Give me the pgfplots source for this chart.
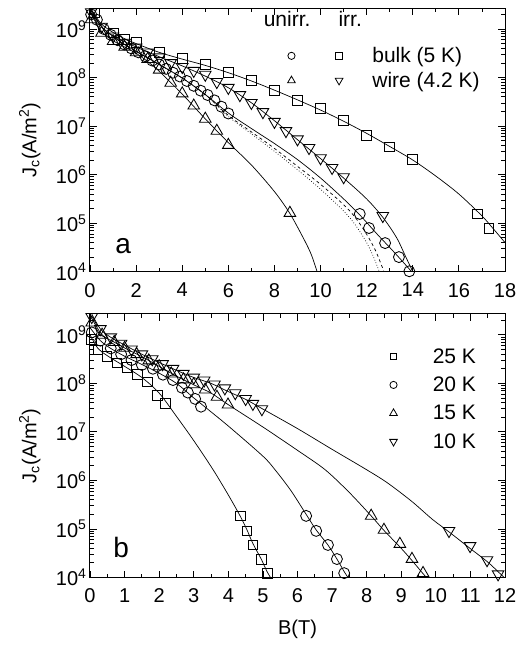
\documentclass[border=0pt]{standalone}
\usepackage{fontspec}
\setmainfont{Liberation Sans}
\usepackage{pgfplots}
\pgfplotsset{compat=1.18}
\pgfplotsset{
  jcfit/.style={black, line width=0.7bp, no markers, smooth},
  jcci/.style={black, only marks, mark=o, mark size=5.5bp, mark options={line width=0.85bp, solid}},
  jcsq/.style={black, only marks, mark=square, mark size=4.9bp, mark options={line width=0.85bp, solid}},
  jctu/.style={black, only marks, mark=triangle, mark size=6.7bp, mark options={line width=0.85bp, solid}},
  jctd/.style={black, only marks, mark=triangle, mark size=6.7bp, mark options={line width=0.85bp, solid, rotate=180}},
}
\begin{document}
\begin{tikzpicture}
\path (0bp,0bp) rectangle (517bp,646bp);
% ---------------- panel a ----------------
\begin{axis}[at={(90bp,374.3bp)}, anchor=south west,
    scale only axis, width=415bp, height=263.6bp,
    ymode=log, ymin=1e4, ymax=2.7e9,
    ytick={1e4,1e5,1e6,1e7,1e8,1e9},
    yticklabels={10\textsuperscript{4},10\textsuperscript{5},10\textsuperscript{6},10\textsuperscript{7},10\textsuperscript{8},10\textsuperscript{9}},
    minor ytick={2e4,3e4,4e4,5e4,6e4,7e4,8e4,9e4,2e5,3e5,4e5,5e5,6e5,7e5,8e5,9e5,2e6,3e6,4e6,5e6,6e6,7e6,8e6,9e6,2e7,3e7,4e7,5e7,6e7,7e7,8e7,9e7,2e8,3e8,4e8,5e8,6e8,7e8,8e8,9e8,2e9},
    tick label style={font=\fontsize{20bp}{24bp}\selectfont},
    xticklabel style={yshift=-8bp},
    /pgf/number format/assume math mode=true,
    major tick length=7bp, minor tick length=4bp,
    tick style={line width=0.8bp, black},
    axis line style={line width=1bp},
    ylabel={J\textsubscript{c}(A/m\textsuperscript{2})},
    ylabel style={font=\fontsize{20bp}{24bp}\selectfont, at={(axis description cs:-0.145,0.5)}, anchor=center},
  xmin=0, xmax=18, xtick={0,2,...,18}, minor xtick={1,3,...,17},
  legend columns=2,
  legend style={at={(0.4686,0.772)}, anchor=west, draw=none, fill=none,
    font=\fontsize{21bp}{25bp}\selectfont, row sep=4bp,
    /tikz/every odd column/.append style={column sep=27.5bp}},
  legend cell align=left]
\addlegendimage{black, only marks, mark=o, mark size=3.6bp, line width=0.8bp}
\addlegendentry{\hspace*{8.5bp}}
\addlegendimage{black, only marks, mark=square, mark size=3.3bp, line width=0.8bp}
\addlegendentry{bulk (5 K)}
\addlegendimage{black, only marks, mark=triangle, mark size=4.4bp, line width=0.8bp}
\addlegendentry{}
\addlegendimage{black, only marks, mark=triangle, mark size=4.4bp, line width=0.8bp, mark options={rotate=180}}
\addlegendentry{wire (4.2 K)}
% irr bulk: squares
\addplot[jcfit, forget plot] coordinates {(0,2.82e9) (0.2,2.0e9) (0.5,1.26e9) (1,8.51e8) (1.5,6.31e8) (2,5.01e8) (3,3.31e8) (4,2.40e8) (5,1.78e8) (6,1.26e8) (7,8.51e7) (8,5.50e7) (9,3.47e7) (10,2.14e7) (11,1.26e7) (12,7.08e6) (13,3.80e6) (14,2.0e6) (15,9.33e5) (16,3.98e5) (17,1.41e5) (17.5,7.59e4) (18,3.98e4)};
\addplot[jcsq, forget plot] coordinates {(0.2,2.14e9) (1.0,8.32e8) (1.5,6.03e8) (2.0,5.25e8) (3.0,3.24e8) (4.0,2.45e8) (5.0,1.86e8) (6.0,1.29e8) (7.0,8.71e7) (8.0,5.50e7) (9.0,3.39e7) (10.0,2.34e7) (11.0,1.29e7) (12.0,6.46e6) (13.0,3.72e6) (14.0,2.09e6) (16.8,1.55e5) (17.3,7.94e4)};
% unirr bulk: circles
\addplot[jcfit, forget plot] coordinates {(0,2.63e9) (0.3,1.51e9) (0.6,1.0e9) (1,7.08e8) (1.5,4.79e8) (2,3.47e8) (3,1.86e8) (4,9.77e7) (5,4.47e7) (6,1.86e7) (7,8.91e6) (8,4.37e6) (9,2.04e6) (10,8.51e5) (11,3.16e5) (11.7,1.48e5) (12.5,5.62e4) (13,3.16e4) (13.5,1.74e4) (13.95,1.0e4)};
\addplot[black, line width=0.7bp, dashed, no markers, smooth, forget plot] coordinates {(0,2.63e9) (0.3,1.51e9) (0.6,1.0e9) (1,7.08e8) (1.5,4.79e8) (2,3.47e8) (3,1.86e8) (4,9.77e7) (5,4.47e7) (6,1.66e7) (7,7.59e6) (8,3.47e6) (9,1.48e6) (10,6.31e5) (11,2.40e5) (11.5,1.32e5) (12,5.89e4) (12.4,2.63e4) (12.75,1.0e4)};
\addplot[black, line width=0.7bp, dotted, no markers, smooth, forget plot] coordinates {(0,2.63e9) (0.3,1.51e9) (0.6,1.0e9) (1,7.08e8) (1.5,4.79e8) (2,3.47e8) (3,1.86e8) (4,9.77e7) (5,4.47e7) (6,1.58e7) (7,6.92e6) (8,3.02e6) (9,1.26e6) (10,5.01e5) (11,1.78e5) (11.5,9.33e4) (12,3.98e4) (12.3,2.0e4) (12.55,1.0e4)};
\addplot[jcci, forget plot] coordinates {(0.05,2.0e9) (0.3,1.55e9) (0.6,1.0e9) (0.9,7.59e8) (1.2,5.89e8) (1.5,4.79e8) (1.8,3.98e8) (2.1,3.31e8) (2.4,2.75e8) (2.7,2.24e8) (3.0,1.86e8) (3.3,1.51e8) (3.6,1.26e8) (3.9,1.05e8) (4.2,8.51e7) (4.5,6.76e7) (4.8,5.37e7) (5.1,4.37e7) (5.4,3.39e7) (5.7,2.51e7) (6.0,1.82e7) (11.7,1.55e5) (12.1,7.94e4) (12.8,3.89e4) (13.4,2.0e4) (13.85,1.02e4)};
% unirr wire: triangles up
\addplot[jcfit, forget plot] coordinates {(0,2.24e9) (0.5,8.91e8) (1,5.75e8) (1.5,4.27e8) (2,3.16e8) (2.5,2.14e8) (3,1.35e8) (4,4.57e7) (5,1.41e7) (6,4.57e6) (7,1.58e6) (8,4.47e5) (8.67,1.58e5) (9.3,4.47e4) (9.6,2.24e4) (9.85,1.0e4)};
\addplot[jctu, forget plot] coordinates {(0.05,1.58e9) (0.5,8.32e8) (1.0,5.62e8) (1.5,4.27e8) (2.0,3.31e8) (2.5,2.40e8) (3.0,1.45e8) (3.5,7.76e7) (4.0,4.68e7) (4.5,2.63e7) (5.0,1.41e7) (5.5,7.94e6) (6.0,4.07e6) (8.67,1.62e5)};
% irr wire: triangles down
\addplot[jcfit, forget plot] coordinates {(0,2.82e9) (0.5,1.12e9) (1,7.24e8) (2,4.27e8) (3,2.69e8) (4,1.74e8) (5,1.07e8) (6,6.17e7) (7,3.02e7) (8,1.29e7) (9,5.25e6) (10,2.14e6) (11,8.51e5) (12,3.16e5) (12.7,1.32e5) (13.3,5.01e4) (13.7,2.0e4) (14.0,1.0e4)};
\addplot[jctd, forget plot] coordinates {(0.05,2.24e9) (0.5,1.12e9) (1.0,7.08e8) (1.5,5.25e8) (2.0,4.17e8) (2.5,3.31e8) (3.0,2.63e8) (3.5,2.0e8) (4.0,1.66e8) (4.5,1.38e8) (5.0,1.15e8) (5.5,8.13e7) (6.0,6.17e7) (6.5,4.37e7) (7.0,3.02e7) (7.5,1.95e7) (8.0,1.23e7) (8.5,7.94e6) (9.0,5.37e6) (9.5,3.55e6) (10.0,2.19e6) (10.5,1.38e6) (11.0,8.91e5) (12.7,1.41e5)};
\node[font=\fontsize{21bp}{25bp}\selectfont, inner sep=0pt] at (rel axis cs:0.475,0.958) {unirr.};
\node[font=\fontsize{21bp}{25bp}\selectfont, inner sep=0pt] at (rel axis cs:0.627,0.958) {irr.};
\node[font=\fontsize{28bp}{32bp}\selectfont, inner sep=0pt] at (rel axis cs:0.08,0.097) {a};
\end{axis}
% ---------------- panel b ----------------
\begin{axis}[at={(90bp,68.5bp)}, anchor=south west,
    scale only axis, width=415bp, height=263.6bp,
    ymode=log, ymin=1e4, ymax=2.7e9,
    ytick={1e4,1e5,1e6,1e7,1e8,1e9},
    yticklabels={10\textsuperscript{4},10\textsuperscript{5},10\textsuperscript{6},10\textsuperscript{7},10\textsuperscript{8},10\textsuperscript{9}},
    minor ytick={2e4,3e4,4e4,5e4,6e4,7e4,8e4,9e4,2e5,3e5,4e5,5e5,6e5,7e5,8e5,9e5,2e6,3e6,4e6,5e6,6e6,7e6,8e6,9e6,2e7,3e7,4e7,5e7,6e7,7e7,8e7,9e7,2e8,3e8,4e8,5e8,6e8,7e8,8e8,9e8,2e9},
    tick label style={font=\fontsize{20bp}{24bp}\selectfont},
    xticklabel style={yshift=-8bp},
    /pgf/number format/assume math mode=true,
    major tick length=7bp, minor tick length=4bp,
    tick style={line width=0.8bp, black},
    axis line style={line width=1bp},
    ylabel={J\textsubscript{c}(A/m\textsuperscript{2})},
    ylabel style={font=\fontsize{20bp}{24bp}\selectfont, at={(axis description cs:-0.145,0.5)}, anchor=center},
  xmin=0, xmax=12, xtick={0,1,...,12}, minor x tick num=1,
  xlabel={B(T)},
  xlabel style={font=\fontsize{20bp}{24bp}\selectfont, at={(axis description cs:0.5,-0.195)}, anchor=center},
  legend style={at={(0.7145,0.677)}, anchor=west, draw=none, fill=none,
    font=\fontsize{21bp}{25bp}\selectfont, row sep=8.3bp,
    /tikz/every odd column/.append style={column sep=33.5bp}},
  legend cell align=left]
\addlegendimage{black, only marks, mark=square, mark size=3.3bp, line width=0.8bp}
\addlegendentry{25 K}
\addlegendimage{black, only marks, mark=o, mark size=3.6bp, line width=0.8bp}
\addlegendentry{20 K}
\addlegendimage{black, only marks, mark=triangle, mark size=4.4bp, line width=0.8bp}
\addlegendentry{15 K}
\addlegendimage{black, only marks, mark=triangle, mark size=4.4bp, line width=0.8bp, mark options={rotate=180}}
\addlegendentry{10 K}
% 25 K
\addplot[jcfit, forget plot] coordinates {(0,1.0e9) (0.23,5.25e8) (0.5,3.72e8) (1,2.24e8) (1.5,1.32e8) (2,6.31e7) (2.5,2.09e7) (3,6.61e6) (3.56,1.66e6) (4,5.01e5) (4.34,1.86e5) (4.54,9.55e4) (4.71,5.01e4) (4.95,2.40e4) (5.12,1.32e4) (5.22,1.0e4)};
\addplot[jcsq, forget plot] coordinates {(0.05,7.94e8) (0.23,4.90e8) (0.49,3.55e8) (0.78,2.63e8) (1.07,2.09e8) (1.36,1.51e8) (1.65,1.07e8) (1.94,5.75e7) (2.17,3.80e7) (4.34,1.86e5) (4.54,9.12e4) (4.71,4.68e4) (4.95,2.40e4) (5.12,1.23e4)};
% 20 K
\addplot[jcfit, forget plot] coordinates {(0,1.41e9) (0.3,7.59e8) (0.6,5.25e8) (1,3.63e8) (1.5,2.45e8) (2,1.62e8) (2.5,1.0e8) (3,5.01e7) (3.21,3.80e7) (4,1.32e7) (5,3.16e6) (5.35,1.66e6) (5.8,6.31e5) (6.25,2.0e5) (6.54,9.55e4) (6.88,4.68e4) (7.14,2.40e4) (7.35,1.32e4) (7.46,1.0e4)};
\addplot[jcci, forget plot] coordinates {(0.05,1.12e9) (0.3,7.59e8) (0.6,5.25e8) (0.9,3.98e8) (1.2,3.02e8) (1.5,2.40e8) (1.82,2.0e8) (2.11,1.51e8) (2.4,1.17e8) (2.66,8.13e7) (2.83,6.46e7) (3.04,4.79e7) (3.21,3.31e7) (6.25,1.86e5) (6.54,9.12e4) (6.88,4.68e4) (7.14,2.40e4) (7.35,1.23e4)};
% 15 K
\addplot[jcfit, forget plot] coordinates {(0,2.51e9) (0.35,1.0e9) (0.7,7.08e8) (1,5.37e8) (1.5,3.55e8) (2,2.24e8) (2.5,1.41e8) (3,9.33e7) (3.5,6.31e7) (4,3.63e7) (5,1.26e7) (6,4.17e6) (6.8,1.66e6) (7.5,5.62e5) (8.13,1.86e5) (8.5,9.33e4) (8.96,4.27e4) (9.31,2.24e4) (9.63,1.20e4) (9.73,1.0e4)};
\addplot[jctu, forget plot] coordinates {(0.05,1.78e9) (0.35,1.0e9) (0.7,7.08e8) (1.0,5.37e8) (1.35,3.98e8) (1.7,2.95e8) (2.0,2.24e8) (2.35,1.58e8) (2.7,1.20e8) (3.0,9.55e7) (3.33,7.41e7) (3.67,5.25e7) (3.99,3.63e7) (8.13,1.86e5) (8.50,9.55e4) (8.96,4.90e4) (9.31,2.40e4) (9.63,1.23e4)};
% 10 K
\addplot[jcfit, forget plot] coordinates {(0,3.16e9) (0.3,1.32e9) (0.6,8.91e8) (1,6.17e8) (1.5,3.98e8) (2,2.69e8) (2.5,1.86e8) (3,1.32e8) (3.5,1.0e8) (4,6.76e7) (4.5,4.68e7) (5,2.95e7) (6,1.17e7) (7,4.37e6) (8,1.66e6) (8.6,8.91e5) (9.3,3.72e5) (9.9,1.58e5) (10.38,8.71e4) (10.99,3.98e4) (11.48,2.14e4) (11.8,1.32e4) (12,9.55e3)};
\addplot[jctd, forget plot] coordinates {(0.05,2.34e9) (0.3,1.32e9) (0.6,8.91e8) (0.9,6.61e8) (1.2,5.01e8) (1.5,3.98e8) (1.8,3.16e8) (2.1,2.51e8) (2.4,2.0e8) (2.7,1.58e8) (3.0,1.32e8) (3.3,1.15e8) (3.6,9.55e7) (3.9,7.94e7) (4.2,6.31e7) (4.5,4.79e7) (4.71,3.80e7) (4.97,2.95e7) (10.38,9.12e4) (10.99,4.47e4) (11.48,2.29e4) (11.8,1.17e4)};
\node[font=\fontsize{28bp}{32bp}\selectfont, inner sep=0pt] at (rel axis cs:0.075,0.112) {b};
\end{axis}
\end{tikzpicture}
\end{document}
